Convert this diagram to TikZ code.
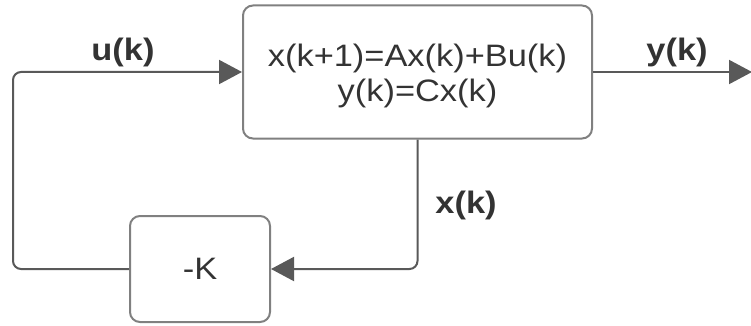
\documentclass[tikz,border=0pt]{standalone}
\usepackage{fontspec}
\setmainfont[FakeStretch=1.11]{Liberation Sans}
\usetikzlibrary{arrows.meta}
\definecolor{linegray}{HTML}{595959}
\definecolor{boxgray}{HTML}{808080}
\definecolor{txt}{HTML}{333333}
\begin{document}
\begin{tikzpicture}[x=1pt,y=-1pt,
  blk/.style={draw=boxgray, line width=2pt, rounded corners=10pt, inner sep=0pt,
    align=center, font=\fontsize{31}{35}\selectfont, text=txt},
  btxt/.style={align=center, font=\fontsize{31}{35}\selectfont, text=txt, inner sep=0pt},
  wire/.style={draw=linegray, line width=2pt, rounded corners=8pt},
  arr/.style={wire, -{Triangle[length=23pt,width=24pt]}},
  lbl/.style={font=\fontsize{31}{35}\selectfont\bfseries, text=txt}]
\useasboundingbox (0,0) rectangle (751,326);
\node[blk, minimum width=349pt, minimum height=133pt,
  label={[btxt, yshift=-4pt]center:{x(k+1)=Ax(k)+Bu(k)\\y(k)=Cx(k)}}] (sys) at (417.5,72) {};
\node[blk, minimum width=140pt, minimum height=106pt] (gain) at (200,269) {-K};
\coordinate (tl) at (13,72);
\coordinate (out) at (752,72);
\draw[arr] (gain.west) -| (tl) -- (sys.west);
\draw[arr] (sys.south) |- (gain.east);
\draw[arr] (sys.east) -- (out);
\node[lbl] (ulbl) at (123,52) {u(k)};
\node[lbl] (ylbl) at (677,52) {y(k)};
\node[lbl] (xlbl) at (466,205) {x(k)};
\end{tikzpicture}
\end{document}
